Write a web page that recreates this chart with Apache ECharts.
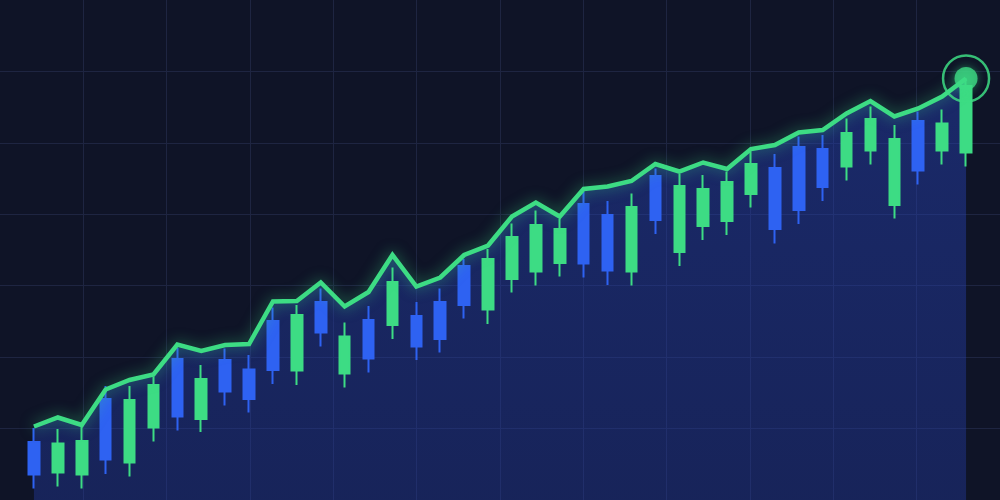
<!DOCTYPE html>
<html>
<head>
<meta charset="utf-8">
<script src="https://cdn.jsdelivr.net/npm/echarts@6/dist/echarts.min.js"></script>
<style>
html,body{margin:0;padding:0;background:#0f1427;}
#chart{width:1000px;height:500px;}
</style>
</head>
<body>
<div id="chart"></div>
<script>
// 40 sessions
const categories = Array.from({length: 40}, (_, i) => 'D' + (i + 1));

// candle values: [open, close, low, high]
const opens  = [11.6, 5.5, 5.1, 20.2, 7.5, 14.5, 28.2, 16.2, 28.0, 26.1,
                35.8, 25.9, 39.6, 25.3, 36.0, 35.0, 36.8, 39.6, 46.8, 38.1,
                44.2, 45.7, 47.4, 59.2, 57.0, 45.7, 64.8, 49.6, 54.8, 55.8,
                61.2, 66.4, 70.6, 70.2, 66.7, 69.9, 59.0, 75.8, 69.9, 69.5];
const closes = [5.1, 11.3, 11.8, 8.1, 20.0, 23.0, 16.7, 24.2, 21.7, 20.2,
                26.0, 37.0, 33.5, 32.7, 28.3, 43.6, 30.7, 32.2, 39.0, 48.2,
                52.6, 55.0, 54.2, 47.3, 45.9, 58.6, 56.0, 62.8, 62.2, 63.6,
                67.2, 54.2, 58.0, 62.6, 73.4, 76.2, 72.2, 65.9, 75.3, 82.8];
const lows   = [2.3, 2.7, 2.3, 5.2, 4.7, 11.7, 13.9, 13.6, 18.9, 17.5,
                23.2, 23.0, 30.7, 22.5, 25.5, 32.2, 28.0, 29.5, 36.3, 35.2,
                41.5, 42.9, 44.7, 44.5, 43.0, 42.9, 53.2, 46.8, 52.0, 53.0,
                58.5, 51.3, 55.2, 59.8, 63.9, 67.1, 56.3, 63.1, 67.1, 66.7];
const highs  = [14.4, 14.2, 14.7, 22.8, 22.8, 24.7, 30.4, 27.0, 30.3, 29.0,
                38.5, 39.0, 42.3, 35.5, 38.8, 46.5, 39.6, 42.3, 48.2, 50.2,
                55.3, 57.9, 56.2, 61.7, 59.8, 61.3, 66.3, 65.2, 65.0, 65.7,
                69.7, 69.2, 72.7, 73.0, 76.3, 78.7, 75.0, 77.7, 78.1, 84.4];

// trend line
const trend  = [14.7, 16.5, 15.0, 22.1, 24.0, 25.1, 31.1, 29.8, 31.0, 31.2,
                39.7, 39.8, 43.5, 38.7, 41.6, 49.0, 42.7, 44.5, 49.0, 50.9,
                56.7, 59.5, 56.7, 62.2, 62.7, 63.8, 67.2, 65.7, 67.5, 66.2,
                70.2, 71.0, 73.5, 74.0, 77.3, 79.8, 76.7, 78.3, 80.7, 84.3];

const GREEN = '#3ddc84';
const BLUE = '#2e62f2';

const candleData = categories.map((c, i) => [opens[i], closes[i], lows[i], highs[i]]);
const lastIdx = trend.length - 1;

const gridLine = {show: true, showMinLine: false, showMaxLine: false, lineStyle: {color: '#1e2541', width: 1}};

const chart = echarts.init(document.getElementById('chart'), null, {renderer: 'canvas'});
chart.setOption({
  backgroundColor: '#0f1427',
  animation: false,
  grid: [
    {left: 22, right: 22, top: 0, bottom: 0},
    {left: 0, right: 0, top: 0, bottom: 0}
  ],
  xAxis: [
    {type: 'category', data: categories, boundaryGap: true, show: false, gridIndex: 0},
    {type: 'value', min: 0, max: 12, interval: 1, gridIndex: 1,
     axisLine: {show: false}, axisTick: {show: false}, axisLabel: {show: false},
     splitLine: gridLine}
  ],
  yAxis: [
    {type: 'value', min: 0, max: 100, show: false, gridIndex: 0},
    {type: 'value', min: 0, max: 7, interval: 1, gridIndex: 1,
     axisLine: {show: false}, axisTick: {show: false}, axisLabel: {show: false},
     splitLine: gridLine}
  ],
  series: [
    {
      type: 'line', data: trend, xAxisIndex: 0, yAxisIndex: 0,
      symbol: 'none', z: 1,
      lineStyle: {width: 0},
      areaStyle: {
        color: new echarts.graphic.LinearGradient(0, 0, 0, 1, [
          {offset: 0, color: 'rgba(40,68,188,0.64)'},
          {offset: 1, color: 'rgba(36,60,168,0.56)'}
        ])
      }
    },
    {
      type: 'candlestick', data: candleData, xAxisIndex: 0, yAxisIndex: 0,
      barWidth: 11, z: 3,
      itemStyle: {
        color: GREEN, color0: BLUE,
        borderColor: GREEN, borderColor0: BLUE,
        borderWidth: 2
      }
    },
    {
      type: 'line', data: trend, xAxisIndex: 0, yAxisIndex: 0,
      symbol: 'none', z: 5,
      lineStyle: {width: 4.5, color: GREEN, shadowBlur: 14, shadowColor: 'rgba(61,220,132,0.55)', join: 'miter'}
    },
    {
      type: 'scatter', xAxisIndex: 0, yAxisIndex: 0, z: 6,
      data: [[categories[lastIdx], trend[lastIdx]]],
      symbolSize: 46,
      itemStyle: {color: 'rgba(0,0,0,0)', borderColor: GREEN, borderWidth: 2.5, opacity: 0.85}
    },
    {
      type: 'scatter', xAxisIndex: 0, yAxisIndex: 0, z: 7,
      data: [[categories[lastIdx], trend[lastIdx]]],
      symbolSize: 23,
      itemStyle: {color: GREEN, shadowBlur: 10, shadowColor: 'rgba(61,220,132,0.6)'}
    }
  ]
});
</script>
</body>
</html>
